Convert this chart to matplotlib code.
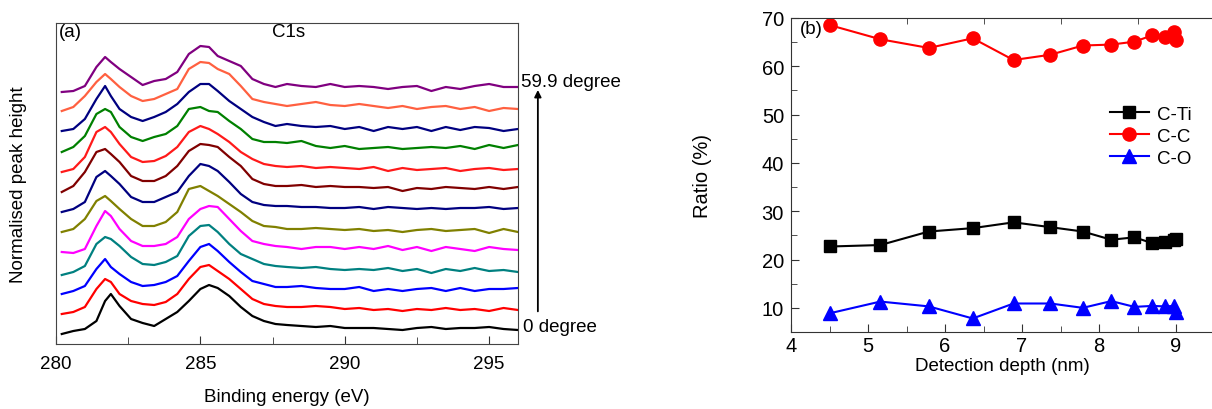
import numpy as np
import matplotlib
matplotlib.use("Agg")
import matplotlib.pyplot as plt
from matplotlib.ticker import MultipleLocator, FixedLocator

plt.rcParams['font.family'] = ['Liberation Sans', 'DejaVu Sans']

# ---- panel (a): C1s spectra, bottom (0 degree) to top (59.9 degree) ----
energy = [280.2, 280.6, 281.0, 281.4, 281.7, 281.9, 282.2, 282.6, 283.0, 283.4,
          283.8, 284.2, 284.6, 285.0, 285.3, 285.6, 286.0, 286.4, 286.8, 287.2,
          287.6, 288.0, 288.5, 289.0, 289.5, 290.0, 290.5, 291.0, 291.5, 292.0,
          292.5, 293.0, 293.5, 294.0, 294.5, 295.0, 295.5, 296.0]

s00 = [-5, -2, 0, 8, 28, 35, 23, 10, 6, 3, 10, 17, 28, 40, 44, 41, 33, 22, 13, 8,
       5, 4, 3, 2, 3, 1, 1, 1, 0, -1, 1, 2, 0, 1, 1, 2, 0, -1]
s01 = [-4, -2, 3, 21, 31, 28, 16, 9, 6, 5, 8, 16, 31, 43, 45, 39, 31, 21, 11, 6,
       4, 3, 3, 4, 3, 1, 2, 0, 1, -1, 1, 0, 2, 0, 1, -1, 2, 0]
s02 = [-5, -2, 3, 20, 30, 22, 15, 7, 3, 4, 7, 13, 28, 42, 45, 38, 27, 17, 8, 5,
       2, 2, 3, 1, 0, 0, 2, -2, 0, -2, 0, 1, -2, 1, -2, 0, 0, 1]
s03 = [-4, -1, 5, 27, 34, 32, 25, 14, 7, 6, 9, 15, 35, 45, 46, 39, 27, 17, 12, 7,
       5, 4, 3, 4, 2, 1, 2, 1, 3, 0, 2, -2, 2, 0, 3, 0, 1, -1]
s04 = [-2, -3, 1, 24, 39, 34, 21, 9, 4, 4, 6, 13, 31, 41, 44, 43, 31, 19, 9, 6,
       4, 3, 1, 3, 3, 1, 3, 1, 4, 0, 3, -1, 3, 1, -1, 3, 1, 0]
s05 = [0, 3, 13, 31, 36, 31, 23, 13, 6, 6, 10, 20, 43, 46, 41, 36, 28, 20, 11, 6,
       5, 3, 3, 4, 3, 2, 3, 1, 2, 0, 2, 3, 1, 2, 3, -1, 3, 0]
s06 = [-4, -1, 6, 31, 37, 32, 24, 11, 6, 6, 11, 16, 32, 44, 42, 37, 26, 14, 6, 3,
       2, 2, 1, 1, 0, 0, 1, -1, 1, 0, -1, 0, -1, 0, 0, 1, -1, 0]
s07 = [-3, 3, 17, 37, 40, 35, 27, 13, 8, 8, 13, 23, 38, 45, 44, 42, 32, 23, 10, 5,
       3, 3, 4, 2, 3, 2, 2, 1, 2, -2, 1, 0, 2, 1, 0, 2, 0, 2]
s08 = [0, 3, 15, 40, 45, 40, 28, 15, 10, 11, 16, 25, 40, 46, 43, 38, 30, 20, 13, 8,
       6, 5, 6, 4, 5, 4, 3, 5, 1, 4, 2, 3, 4, 1, 3, 4, 2, 3]
s09 = [-6, -1, 10, 32, 37, 34, 19, 9, 5, 9, 12, 20, 37, 39, 35, 34, 25, 17, 7, 4,
       4, 3, 5, 0, -2, 0, -3, -2, -1, -3, -2, -1, -2, 0, -3, 1, -2, 1]
s10 = [-2, 0, 10, 30, 43, 33, 20, 12, 8, 12, 17, 25, 37, 45, 45, 38, 28, 20, 12, 7,
       3, 5, 3, 2, 3, 0, 2, -2, 2, 0, 2, -2, 2, -1, 2, 1, -2, 0]
s11 = [-2, 2, 13, 27, 35, 30, 22, 13, 8, 10, 15, 20, 40, 47, 46, 40, 35, 23, 10, 7,
       5, 3, 5, 7, 4, 3, 5, 3, 1, 3, 0, 2, 3, 0, 2, -2, 1, 0]
s12 = [-5, -4, 1, 20, 30, 25, 18, 10, 2, 6, 8, 15, 33, 41, 40, 31, 26, 21, 8, 3,
       0, 3, 1, 0, 3, 0, 1, 0, -2, 0, 1, -4, 0, -2, 1, 3, 0, 0]

spectra = [s00, s01, s02, s03, s04, s05, s06, s07, s08, s09, s10, s11, s12]
shift = [15, 34, 55, 73, 94, 112, 136, 155, 172, 198, 215, 235, 257]
spec_colors = ['#000000', '#ff0000', '#0000ff', '#008080', '#ff00ff', '#808000',
               '#000080', '#800000', '#ff1a1a', '#008000', '#000080', '#ff6040',
               '#800080']

# ---- panel (b): component ratios vs detection depth ----
depth = [4.51, 5.16, 5.79, 6.36, 6.89, 7.37, 7.79, 8.16, 8.46, 8.69, 8.86, 8.97, 9.0]
c_ti = [22.7, 23.0, 25.8, 26.5, 27.7, 26.7, 25.8, 24.1, 24.6, 23.4, 23.6, 24.0, 24.2]
c_c = [68.5, 65.6, 63.8, 65.8, 61.3, 62.4, 64.3, 64.5, 65.1, 66.4, 66.0, 67.1, 65.4]
c_o = [8.9, 11.3, 10.3, 7.8, 10.9, 10.9, 10.0, 11.4, 10.2, 10.4, 10.3, 10.4, 9.1]

fig = plt.figure(figsize=(12.12, 4.10), dpi=100)

ax1 = fig.add_axes([56/1212, 65/410, 462/1212, 321/410])
for s, off, c in zip(spectra, shift, spec_colors):
    ax1.plot(energy, np.array(s) + off, color=c, lw=1.6)
ax1.set_xlim(280, 296)
ax1.set_ylim(0, 321)
ax1.set_yticks([])
ax1.xaxis.set_major_locator(MultipleLocator(5))
ax1.xaxis.set_minor_locator(MultipleLocator(2.5))
ax1.tick_params(axis='x', which='both', direction='in', labelsize=13.5, pad=8, color='#333333')
ax1.tick_params(axis='x', which='major', length=6)
ax1.tick_params(axis='x', which='minor', length=5)
for sp in ax1.spines.values():
    sp.set_color('#444444')
ax1.set_xlabel('Binding energy (eV)', fontsize=13.5)
ax1.xaxis.label.set_va('center')
ax1.xaxis.set_label_coords(0.5, -0.165)
ax1.set_ylabel('Normalised peak height', fontsize=13.5)
ax1.yaxis.label.set_va('center')
ax1.yaxis.set_label_coords(-0.082, 0.5)
ax1.text(0.007, 0.972, '(a)', transform=ax1.transAxes, fontsize=13.5, va='center', ha='left')
ax1.text(0.504, 0.972, 'C1s', transform=ax1.transAxes, fontsize=13.5, va='center', ha='center')
ax1.annotate('', xy=(1.043, 0.80), xytext=(1.043, 0.093), xycoords='axes fraction',
             textcoords='axes fraction', annotation_clip=False,
             arrowprops=dict(arrowstyle='-|>', color='black', lw=1.3, mutation_scale=10))
ax1.text(1.006, 0.819, '59.9 degree', transform=ax1.transAxes, fontsize=13.5, va='center', ha='left')
ax1.text(1.01, 0.056, '0 degree', transform=ax1.transAxes, fontsize=13.5, va='center', ha='left')

ax2 = fig.add_axes([791/1212, 77/410, 423.5/1212, 314/410])
ax2.plot(depth, c_ti, '-s', color='black', lw=1.5, ms=8.5, label='C-Ti')
ax2.plot(depth, c_c, '-o', color='#ff0000', lw=1.5, ms=9.5, label='C-C')
ax2.plot(depth, c_o, '-^', color='#0000ff', lw=1.5, ms=10, label='C-O')
ax2.set_xlim(4, 9.5)
ax2.set_ylim(5, 70)
ax2.xaxis.set_major_locator(MultipleLocator(1))
ax2.xaxis.set_minor_locator(MultipleLocator(0.5))
ax2.yaxis.set_major_locator(FixedLocator([10, 20, 30, 40, 50, 60, 70]))
ax2.yaxis.set_minor_locator(MultipleLocator(5))
ax2.tick_params(which='both', direction='in', labelsize=14.5, color='#333333')
ax2.tick_params(which='major', length=6, pad=5)
ax2.tick_params(axis='x', which='major', pad=3)
ax2.tick_params(which='minor', length=4, top=True)
for sp in ax2.spines.values():
    sp.set_color('#333333')
ax2.set_xlabel('Detection depth (nm)', fontsize=13.5)
ax2.xaxis.label.set_va('center')
ax2.xaxis.set_label_coords(0.5, -0.108)
ax2.set_ylabel('Ratio (%)', fontsize=14.5)
ax2.yaxis.label.set_va('center')
ax2.yaxis.set_label_coords(-0.208, 0.5)
ax2.text(0.021, 0.965, '(b)', transform=ax2.transAxes, fontsize=13.5, va='center', ha='left')
ax2.legend(loc='upper left', bbox_to_anchor=(0.73, 0.75), frameon=False, fontsize=13.5,
           handlelength=2.1, handletextpad=0.45, labelspacing=0.25, borderpad=0)

fig.savefig('out.png', dpi=100)
